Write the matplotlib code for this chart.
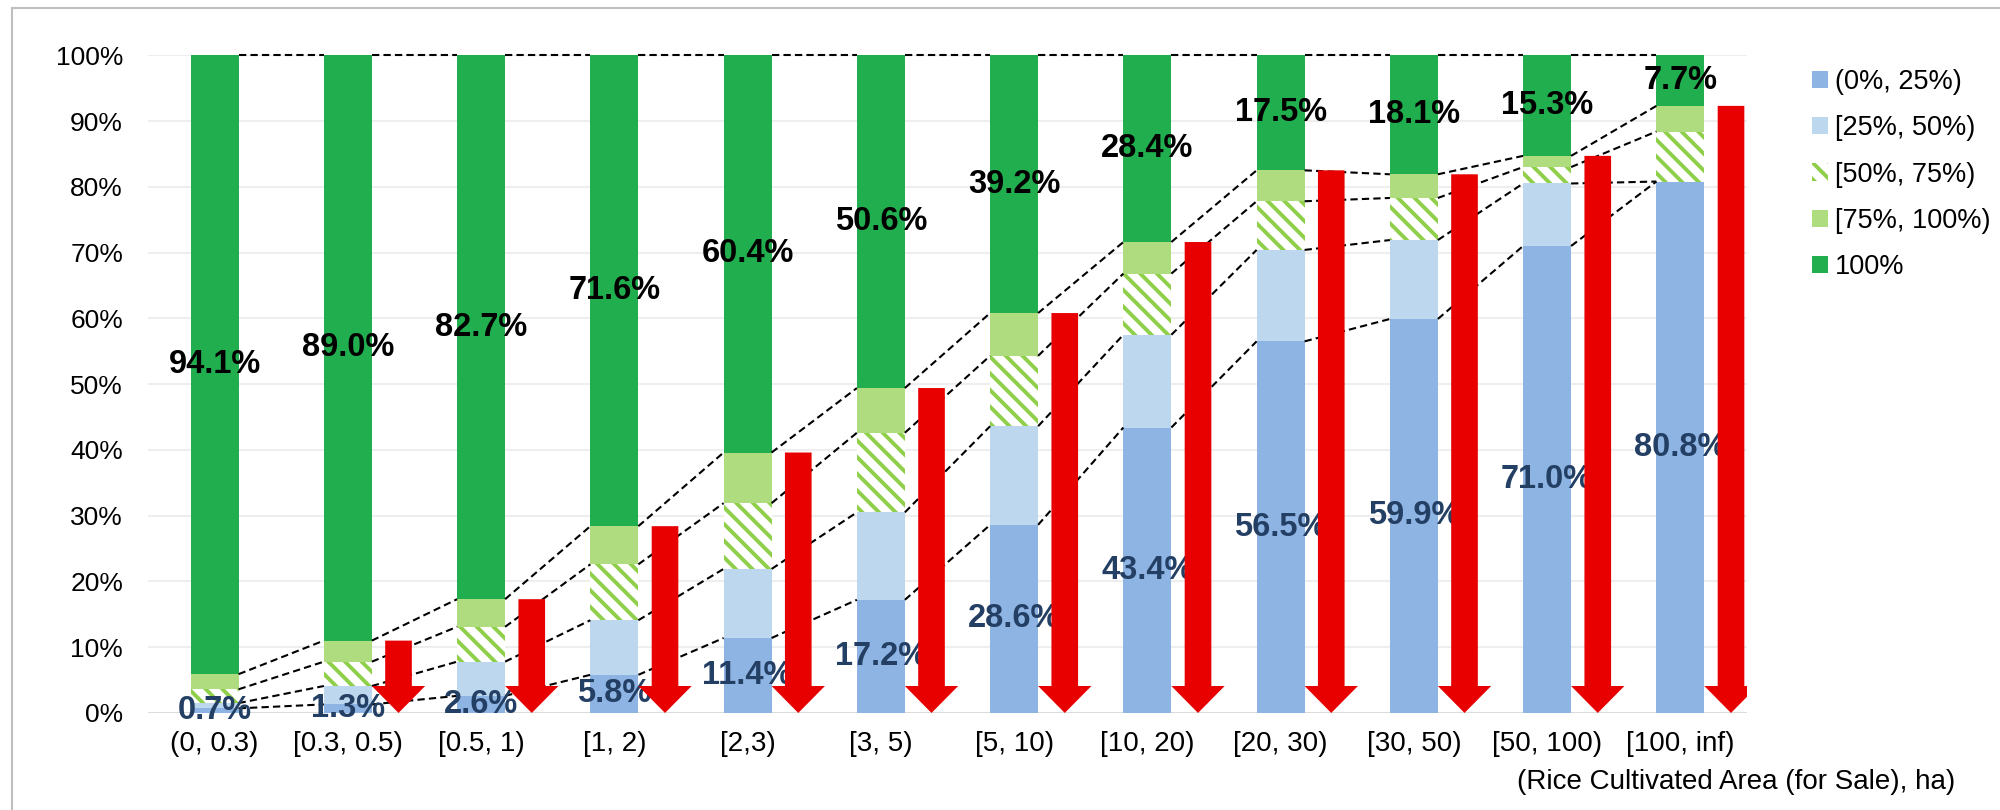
import numpy as np
import matplotlib.pyplot as plt
from matplotlib.patches import Rectangle


categories = ['(0, 0.3)', '[0.3, 0.5)', '[0.5, 1)', '[1, 2)', '[2,3)', '[3, 5)',
              '[5, 10)', '[10, 20)', '[20, 30)', '[30, 50)', '[50, 100)', '[100, inf)']
share_0_25 = [0.7, 1.3, 2.6, 5.8, 11.4, 17.2, 28.6, 43.4, 56.5, 59.9, 71.0, 80.8]
share_25_50 = [0.8, 2.8, 5.2, 8.3, 10.5, 13.3, 15.0, 14.1, 13.9, 12.0, 9.5, 0.0]
share_50_75 = [2.1, 3.7, 5.3, 8.5, 10.0, 12.1, 10.7, 9.3, 7.4, 6.4, 2.5, 7.6]
share_75_100 = [2.3, 3.2, 4.2, 5.8, 7.7, 6.8, 6.5, 4.8, 4.7, 3.6, 1.7, 3.9]
share_100 = [94.1, 89.0, 82.7, 71.6, 60.4, 50.6, 39.2, 28.4, 17.5, 18.1, 15.3, 7.7]
legend_labels = ['(0%, 25%)', '[25%, 50%)', '[50%, 75%)', '[75%, 100%)', '100%']
y_ticks = [0, 10, 20, 30, 40, 50, 60, 70, 80, 90, 100]
x_title = '(Rice Cultivated Area (for Sale), ha)'

plt.rcParams['font.family'] = ['Liberation Sans', 'DejaVu Sans']
plt.rcParams['hatch.linewidth'] = 2.8


def plot_chart():
    fig = plt.figure(figsize=(20, 8.1), dpi=100)
    ax = fig.add_axes([0.074, 0.1198, 0.7995, 0.812])

    x = np.arange(len(categories))
    width = 0.36
    series = [share_0_25, share_25_50, share_50_75, share_75_100, share_100]
    colors = ['#8EB4E3', '#BDD7EE', None, '#B0DC80', '#20AE4E']

    bottom = np.zeros(len(categories))
    bounds = []
    handles = []
    for idx, values in enumerate(series):
        values = np.array(values)
        if colors[idx] is None:
            bars = ax.bar(x, values, width, bottom=bottom, facecolor='white',
                          edgecolor='#8FCF4A', hatch='\\\\', linewidth=0, zorder=2)
        else:
            bars = ax.bar(x, values, width, bottom=bottom, color=colors[idx],
                          linewidth=0, zorder=2)
        handles.append(bars)
        bottom = bottom + values
        bounds.append(bottom.copy())

    # series lines between neighbouring bars
    for level in bounds:
        for i in range(len(categories) - 1):
            ax.plot([x[i] + width / 2, x[i + 1] - width / 2], [level[i], level[i + 1]],
                    color='black', linestyle=(0, (3.5, 2)), lw=1.5, zorder=3, clip_on=False)

    for i in range(len(categories)):
        ax.text(x[i], share_0_25[i] / 2, f'{share_0_25[i]:.1f}%', ha='center', va='center',
                fontsize=23.5, fontweight='bold', color='#243F64', zorder=4)
        ax.text(x[i], 100 - share_100[i] / 2, f'{share_100[i]:.1f}%', ha='center', va='center',
                fontsize=23.5, fontweight='bold', color='black', zorder=4)

    # red arrows: share below 100%
    for i in range(1, len(categories)):
        h = 100 - share_100[i]
        ax.arrow(x[i] + 0.38, h, 0, -h, width=0.2, head_width=0.4, head_length=4.1,
                 length_includes_head=True, color='#E80000', lw=0, zorder=5)

    ax.set_xlim(-0.5, len(categories) - 0.5)
    ax.set_ylim(0, 100)
    ax.set_xticks(x)
    ax.set_xticklabels(categories)
    ax.set_yticks(y_ticks)
    ax.set_yticklabels([f'{t}%' for t in y_ticks])
    ax.tick_params(length=0, labelsize=19)
    ax.tick_params(axis='y', pad=18)
    ax.tick_params(axis='x', pad=13, labelsize=20)
    ax.grid(axis='y', color='#EEEEEE', lw=1.5, zorder=0)
    ax.set_axisbelow(True)
    for spine in ax.spines.values():
        spine.set_visible(False)
    ax.axhline(0, color='#D9D9D9', lw=2, zorder=1)

    ax.legend(handles, legend_labels, loc='upper left',
              bbox_to_anchor=(1812 / 2000, 1 - 69 / 810), bbox_transform=fig.transFigure,
              frameon=False, fontsize=19.5, handlelength=0.6, handleheight=0.6,
              handletextpad=0.25, labelspacing=0.75, borderpad=0, borderaxespad=0)

    fig.text(1955 / 2000, 1 - 782 / 810, x_title, ha='right', va='center', fontsize=20)

    fig.patches.append(Rectangle((12 / 2000, -0.05), 1.1, 1.05 - 8 / 810,
                                 transform=fig.transFigure, fill=False,
                                 edgecolor='#BFBFBF', lw=1.5))

    fig.savefig('out.png', dpi=100)


if __name__ == "__main__":
    plot_chart()
